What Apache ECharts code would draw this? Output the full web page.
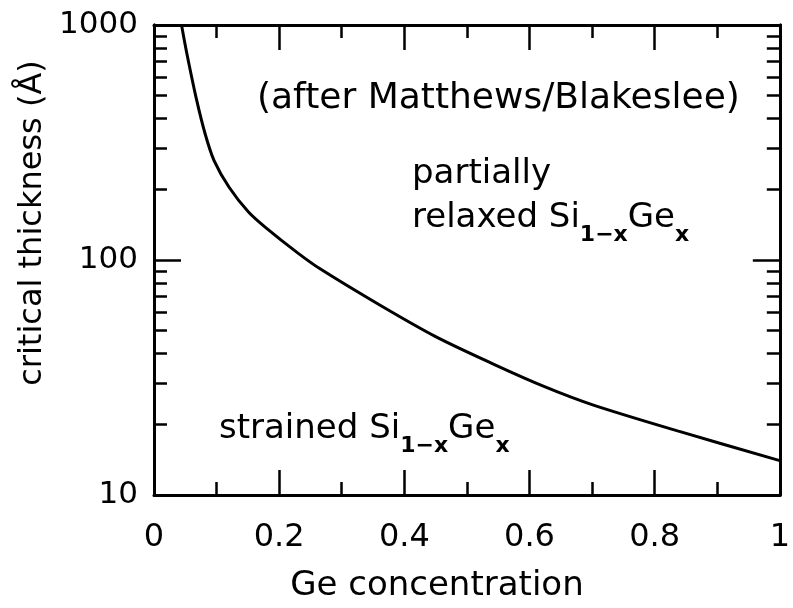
<!DOCTYPE html>
<html>
<head>
<meta charset="utf-8">
<script src="https://cdn.jsdelivr.net/npm/echarts@6/dist/echarts.min.js"></script>
<style>
html,body{margin:0;padding:0;background:#fff;}
#chart{width:793px;height:608px;}
</style>
</head>
<body>
<div id="chart"></div>
<script>
// Data
const geConc  = [0.044, 0.052, 0.068, 0.082, 0.096, 0.120, 0.151, 0.179, 0.230, 0.266, 0.360, 0.450, 0.544, 0.623, 0.701, 0.838, 1.0];
const critThk = [1000, 768, 481, 342, 265, 204, 160, 137, 107, 91.5, 64.5, 47.2, 35.9, 29.0, 24.2, 18.7, 14.0];
const xTicks = [0, 0.2, 0.4, 0.6, 0.8, 1];
const yTicks = [10, 100, 1000];
const yMinorTicks = [20,30,40,50,60,70,80,90,200,300,400,500,600,700,800,900];

const FONT = 'DejaVu Sans';
const chart = echarts.init(document.getElementById('chart'), null, {renderer:'canvas'});
const grid = {left:154, right:4, top:25, bottom:111};
const lineStyle = {color:'#000', width:3};

function xAx(pos, showLabel, name) {
  return {
    type:'value', position:pos, min:0, max:1, interval:0.2,
    name: name || '', nameLocation:'middle', nameGap: 74,
    nameTextStyle:{fontFamily:FONT, fontSize:34, color:'#000', padding:[0,60,0,0]},
    axisLine:{show:true, onZero:false, lineStyle:lineStyle},
    axisTick:{show:true, inside:true, length:25, lineStyle:{color:'#000', width:2.5}},
    minorTick:{show:true, splitNumber:2, length:13, lineStyle:{color:'#000', width:2.5}},
    splitLine:{show:false},
    axisLabel:{show:showLabel, fontFamily:FONT, fontSize:32, color:'#000', margin:27,
      formatter: v => String(+(+v).toFixed(1))}
  };
}
function yAx(pos, showLabel, ticks, len, name) {
  return {
    type:'log', logBase:10, position:pos, min:10, max:1000,
    name: name || '', nameLocation:'middle', nameGap: 96,
    nameTextStyle:{fontFamily:FONT, fontSize:32, color:'#000', padding:[0,0,0,74]},
    axisLine:{show:true, onZero:false, lineStyle:lineStyle},
    axisTick:{show:true, inside:true, length:len, customValues:ticks, lineStyle:{color:'#000', width:2.5}},
    minorTick:{show:false},
    splitLine:{show:false},
    axisLabel:{show:showLabel, fontFamily:FONT, fontSize:31, color:'#000', margin:16,
      customValues: showLabel ? yTicks : undefined,
      formatter: v => String(Math.round(v))}
  };
}

const subRich = {
  a:{fontFamily:FONT, fontSize:34, fill:'#000', lineHeight:38},
  s:{fontFamily:FONT, fontSize:22, fontWeight:'bold', fill:'#000', lineHeight:38, verticalAlign:'bottom', padding:[0,0,-9,0]}
};

const option = {
  backgroundColor:'#fff',
  animation:false,
  grid: grid,
  xAxis: [
    xAx('bottom', true, 'Ge concentration'),
    xAx('top', false)
  ],
  yAxis: [
    yAx('left', true, yTicks, 27, 'critical thickness (Å)'),
    yAx('left', false, yMinorTicks, 13),
    yAx('right', false, yTicks, 27),
    yAx('right', false, yMinorTicks, 13)
  ],
  series: [{
    type:'line',
    xAxisIndex:0, yAxisIndex:0,
    data: geConc.map((x,i)=>[x, critThk[i]]),
    smooth:0.3,
    showSymbol:false,
    lineStyle:{color:'#000', width:3},
    clip:true
  }],
  graphic: [
    {type:'text', x:257, y:99, style:{text:'(after Matthews/Blakeslee)', fontFamily:FONT, fontSize:36, fill:'#000', verticalAlign:'middle'}},
    {type:'text', x:412, y:174, style:{text:'partially', fontFamily:FONT, fontSize:34, fill:'#000', verticalAlign:'middle'}},
    {type:'text', x:412, y:218, style:{
      text:'{a|relaxed Si}{s|1−x}{a|Ge}{s|x}', verticalAlign:'middle', rich:subRich}},
    {type:'text', x:219, y:429, style:{
      text:'{a|strained Si}{s|1−x}{a|Ge}{s|x}', verticalAlign:'middle', rich:subRich}}
  ]
};
chart.setOption(option);
</script>
</body>
</html>
